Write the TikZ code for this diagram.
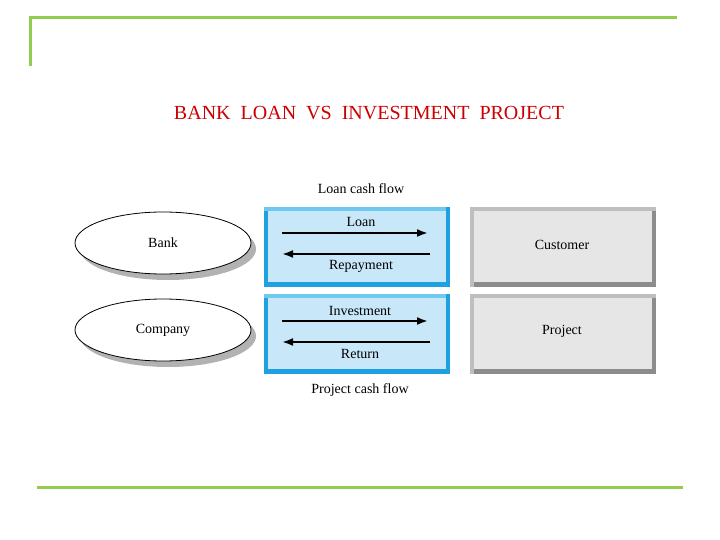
\documentclass[tikz,border=0pt]{standalone}
\usepackage{fontspec}
\setmainfont{Liberation Serif}
\usetikzlibrary{shapes.geometric,arrows.meta}
\begin{document}
\begin{tikzpicture}[x=1pt,y=-1pt,
  lbl/.style={font=\fontsize{14}{16}\selectfont, inner sep=0pt},
  ell/.style={draw=black, line width=0.8pt, fill=white, ellipse, minimum width=176pt, minimum height=62pt, inner sep=0pt},
  arr/.style={-{Latex[length=11pt,width=8pt]}, line width=2pt},
  green/.style={draw=linegreen, line width=3pt}]
\definecolor{linegreen}{RGB}{146,204,80}
\definecolor{lblue}{RGB}{200,232,250}
\definecolor{dblue}{RGB}{30,160,225}
\definecolor{mblue}{RGB}{110,200,240}
\definecolor{lgray}{RGB}{230,230,230}
\definecolor{dgray}{RGB}{140,140,140}
\definecolor{mgray}{RGB}{190,190,190}
\useasboundingbox (0,0) rectangle (720,540);
\draw[green] (30,66) -- (30,18) -- (677,18);
\draw[green] (37,487) -- (683,487);
\node[lbl, text=red!80!black, font=\fontsize{20}{22}\selectfont] (title) at (369,113) {BANK\ \ LOAN\ \ VS\ \ INVESTMENT\ \ PROJECT};
% ellipses with shadow
\fill[gray!60] (168,249) ellipse (88 and 31);
\node[ell] (bank) at (163,243) {};
\node[lbl] at (bank) {Bank};
\fill[gray!60] (168,336) ellipse (88 and 31);
\node[ell] (company) at (163,330) {};
\node[lbl] at (company) {Company};
% boxes
\foreach \y/\n in {207/b1,294/b2}{
  \fill[dblue] (264,\y) rectangle (450,\y+80);
  \fill[mblue] (264,\y) rectangle (446,\y+4);
  \fill[lblue] (268,\y+4) rectangle (446,\y+75);
  \fill[mgray] (470,\y) rectangle (656,\y+80);
  \fill[dgray] (474,\y+75) rectangle (656,\y+80);
  \fill[dgray] (652,\y+4) rectangle (656,\y+80);
  \fill[lgray] (474,\y+4) rectangle (652,\y+75);
}
\node[lbl] (customer) at (562,245) {Customer};
\node[lbl] (project) at (562,331) {Project};
\coordinate (l1) at (282,233); \coordinate (r1) at (428,233);
\coordinate (r2) at (430,254); \coordinate (l2) at (282,254);
\draw[arr] (l1) -- (r1);
\draw[arr] (r2) -- (l2);
\node[lbl] (loan) at (361,222) {Loan};
\node[lbl] (repay) at (361,266) {Repayment};
\coordinate (l3) at (282,321); \coordinate (r3) at (428,321);
\coordinate (r4) at (430,342); \coordinate (l4) at (282,342);
\draw[arr] (l3) -- (r3);
\draw[arr] (r4) -- (l4);
\node[lbl] (inv) at (360,311) {Investment};
\node[lbl] (ret) at (360,354) {Return};
\node[lbl] (lcf) at (361,189) {Loan cash flow};
\node[lbl] (pcf) at (360,390) {Project cash flow};
\end{tikzpicture}
\end{document}
